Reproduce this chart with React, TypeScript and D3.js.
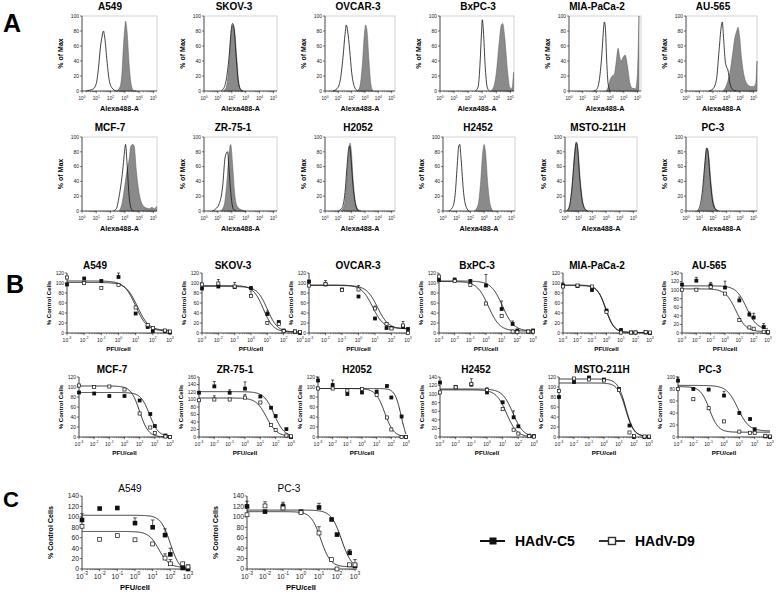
import React from 'react';
import * as d3 from 'd3';

const FONT = 'Liberation Sans, Arial, Helvetica, sans-serif';

// ---------------- Panel A: flow cytometry histograms ----------------
const histNames = ['A549', 'SKOV-3', 'OVCAR-3', 'BxPC-3', 'MIA-PaCa-2', 'AU-565', 'MCF-7', 'ZR-75-1', 'H2052', 'H2452', 'MSTO-211H', 'PC-3'];
const histYTicks = [0, 20, 40, 60, 80, 100];
const histXTicks = [0, 1, 2, 3, 4, 5];

// open (isotype) histograms: [log10 intensity, % of max]
const histOpen: number[][][] = [
  [[0.3, 0], [0.5, 1], [0.8, 3], [1.0, 10], [1.15, 30], [1.3, 60], [1.4, 72], [1.5, 80], [1.6, 70], [1.75, 40], [1.9, 15], [2.1, 4], [2.4, 0]],
  [[1.2, 0], [1.4, 3], [1.6, 15], [1.8, 45], [1.95, 80], [2.05, 90], [2.15, 85], [2.3, 50], [2.45, 15], [2.6, 3], [2.8, 0]],
  [[0.6, 0], [0.9, 3], [1.15, 15], [1.35, 45], [1.5, 75], [1.6, 88], [1.7, 80], [1.85, 55], [2.0, 25], [2.2, 6], [2.45, 0]],
  [[2.5, 0], [2.7, 5], [2.85, 40], [2.95, 80], [3.0, 95], [3.08, 80], [3.2, 35], [3.35, 5], [3.5, 0]],
  [[1.8, 0], [2.05, 3], [2.25, 20], [2.4, 50], [2.5, 78], [2.58, 92], [2.65, 85], [2.75, 40], [2.85, 10], [3.0, 0]],
  [[1.7, 0], [2.0, 3], [2.25, 15], [2.45, 55], [2.6, 85], [2.68, 92], [2.78, 70], [2.9, 40], [3.0, 32], [3.1, 28], [3.25, 10], [3.45, 2], [3.7, 0]],
  [[2.2, 0], [2.4, 3], [2.6, 20], [2.85, 55], [2.95, 75], [3.05, 90], [3.15, 65], [3.3, 20], [3.45, 3], [3.6, 0]],
  [[0.6, 0], [0.85, 3], [1.1, 10], [1.35, 35], [1.5, 70], [1.6, 78], [1.7, 80], [1.8, 55], [1.95, 20], [2.1, 3], [2.3, 0]],
  [[1.0, 0], [1.3, 5], [1.5, 25], [1.65, 60], [1.78, 85], [1.85, 88], [1.95, 70], [2.1, 35], [2.3, 8], [2.5, 0]],
  [[0.4, 0], [0.7, 5], [0.9, 25], [1.05, 65], [1.15, 88], [1.22, 90], [1.32, 70], [1.5, 25], [1.7, 5], [1.9, 0]],
  [[0.1, 0], [0.3, 5], [0.5, 30], [0.7, 75], [0.82, 93], [0.92, 85], [1.05, 50], [1.25, 15], [1.45, 3], [1.65, 0]],
  [[0.8, 0], [1.0, 5], [1.2, 25], [1.4, 65], [1.52, 85], [1.62, 80], [1.78, 45], [1.95, 15], [2.15, 3], [2.35, 0]],
];

// filled (anti-receptor) histograms
const histFilled: number[][][] = [
  [[2.4, 0], [2.65, 5], [2.8, 25], [2.9, 60], [3.0, 85], [3.05, 93], [3.15, 80], [3.3, 35], [3.45, 8], [3.6, 1], [3.8, 0]],
  [[1.4, 0], [1.6, 5], [1.8, 35], [1.95, 75], [2.07, 88], [2.2, 80], [2.35, 45], [2.5, 12], [2.65, 2], [2.8, 0]],
  [[2.4, 0], [2.6, 5], [2.8, 35], [2.95, 75], [3.05, 88], [3.15, 80], [3.3, 40], [3.45, 8], [3.6, 0]],
  [[3.6, 0], [3.8, 5], [4.0, 25], [4.2, 65], [4.35, 88], [4.45, 90], [4.6, 70], [4.8, 25], [4.95, 5], [5.1, 3], [5.22, 25]],
  [[2.7, 0], [2.85, 5], [3.0, 15], [3.15, 20], [3.3, 22], [3.45, 40], [3.58, 57], [3.7, 45], [3.8, 40], [3.95, 45], [4.1, 48], [4.25, 35], [4.45, 10], [4.6, 4], [4.85, 3], [4.98, 20], [5.1, 100]],
  [[2.75, 0], [3.0, 8], [3.25, 25], [3.45, 50], [3.6, 70], [3.75, 80], [3.85, 85], [3.95, 75], [4.1, 45], [4.3, 20], [4.5, 10], [4.8, 6], [5.0, 6], [5.15, 10], [5.25, 40]],
  [[2.6, 0], [2.8, 10], [3.0, 35], [3.15, 55], [3.3, 70], [3.42, 88], [3.55, 90], [3.65, 88], [3.8, 55], [3.95, 30], [4.15, 12], [4.4, 5], [4.7, 3], [4.9, 5], [5.05, 3], [5.22, 6]],
  [[1.2, 0], [1.45, 8], [1.65, 40], [1.8, 78], [1.92, 90], [2.05, 65], [2.2, 25], [2.35, 8], [2.55, 3], [2.8, 1], [3.0, 0]],
  [[1.2, 0], [1.45, 8], [1.62, 40], [1.78, 80], [1.88, 92], [1.98, 80], [2.12, 40], [2.3, 10], [2.5, 2], [2.7, 0]],
  [[2.3, 0], [2.55, 8], [2.75, 40], [2.9, 80], [3.0, 90], [3.1, 80], [3.25, 40], [3.45, 8], [3.65, 0]],
  [[0.15, 0], [0.35, 8], [0.55, 40], [0.72, 82], [0.85, 92], [0.97, 78], [1.12, 40], [1.3, 12], [1.5, 2], [1.7, 0]],
  [[0.9, 0], [1.1, 6], [1.3, 35], [1.45, 75], [1.58, 85], [1.7, 72], [1.85, 38], [2.05, 10], [2.25, 2], [2.45, 0]],
];

// ---------------- Panel B: cytotoxicity ----------------
const doseLog = [-3, -2, -1, 0, 1, 1.7, 2, 2.7, 3]; // log10 PFU/cell
const bNames = ['A549', 'SKOV-3', 'OVCAR-3', 'BxPC-3', 'MIA-PaCa-2', 'AU-565', 'MCF-7', 'ZR-75-1', 'H2052', 'H2452', 'MSTO-211H', 'PC-3'];
const bYMax = [120, 120, 120, 120, 120, 140, 120, 160, 120, 140, 120, 100];

const bC5 = [
  [97, 109, 104, 112, 39, 12, 4, 4, 1],
  [89, 93, 92, 90, 38, 22, 5, 3, 0],
  [103, 97, 87, 73, 29, 10, 10, 12, 8],
  [106, 107, 104, 95, 48, 18, 5, 3, 5],
  [95, 94, 86, 45, 6, 1, 1, 1, 0],
  [113, 122, 111, 106, 76, 43, 36, 14, 1],
  [89, 87, 82, 82, 73, 46, 22, 3, 0],
  [118, 135, 118, 129, 108, 78, 56, 21, 0],
  [113, 104, 86, 89, 91, 102, 79, 41, 0],
  [127, 117, 122, 104, 81, 46, 25, 3, 2],
  [80, 110, 119, 115, 96, 23, 0, 0, 0],
  [94, 80, 79, 69, 40, 30, 13, 1, 0],
];
const bD9 = [
  [111, 100, 90, 96, 51, 16, 10, 5, 3],
  [97, 99, 93, 74, 20, 18, 4, 3, 2],
  [95, 98, 86, 87, 49, 18, 9, 15, 0],
  [113, 104, 96, 59, 34, 3, 2, 3, 3],
  [93, 95, 93, 42, 1, 1, 1, 2, 1],
  [101, 101, 107, 92, 30, 13, 10, 3, 2],
  [103, 100, 101, 95, 47, 19, 8, 1, 0],
  [98, 100, 100, 105, 92, 32, 19, 4, 2],
  [97, 97, 93, 96, 84, 39, 15, 0, 0],
  [104, 116, 124, 110, 65, 17, 8, 2, 1],
  [92, 117, 115, 113, 94, 9, 2, 1, 1],
  [80, 63, 48, 26, 9, 7, 7, 2, 1],
];
const bC5Err = [
  [0, 0, 0, 10, 0, 0, 0, 0, 0],
  [0, 0, 0, 0, 6, 0, 0, 0, 0],
  [0, 8, 0, 0, 0, 0, 0, 0, 0],
  [0, 0, 0, 22, 16, 6, 0, 0, 0],
  [5, 0, 0, 0, 0, 0, 0, 0, 0],
  [0, 8, 7, 15, 8, 6, 10, 8, 0],
  [0, 0, 0, 0, 0, 0, 0, 0, 0],
  [0, 13, 8, 18, 0, 0, 0, 0, 0],
  [10, 10, 0, 0, 0, 0, 0, 0, 0],
  [0, 0, 0, 0, 0, 15, 0, 0, 0],
  [0, 0, 0, 0, 0, 0, 0, 0, 0],
  [6, 0, 0, 7, 0, 0, 0, 0, 0],
];
const bD9Err = [
  [0, 0, 0, 0, 0, 0, 0, 0, 0],
  [0, 8, 8, 10, 0, 0, 0, 0, 0],
  [0, 0, 0, 8, 5, 0, 0, 8, 0],
  [0, 0, 0, 0, 0, 0, 0, 0, 0],
  [0, 0, 0, 0, 0, 0, 0, 0, 0],
  [0, 0, 0, 0, 0, 0, 0, 0, 0],
  [0, 0, 0, 0, 0, 0, 0, 0, 0],
  [0, 10, 0, 8, 0, 0, 0, 0, 0],
  [0, 0, 0, 0, 0, 0, 0, 0, 0],
  [0, 0, 12, 5, 0, 0, 0, 0, 0],
  [0, 0, 0, 0, 0, 0, 0, 0, 0],
  [0, 0, 0, 0, 0, 0, 0, 0, 0],
];
// fitted dose-response: [top, bottom, logEC50, hill]
const bC5Fit = [
  [104, 4, 1.0, 1.3], [93, 2, 1.0, 1.4], [96, 9, 0.85, 1.3], [104, 4, 1.05, 1.2],
  [96, 1, -0.05, 1.5], [110, 8, 1.5, 1.2], [89, 1, 1.65, 1.5], [121, 0, 1.9, 1.3],
  [97, -15, 2.68, 2.0], [112, 0, 1.65, 1.3], [108, 1, 1.45, 1.6], [86, 10, 0.9, 1.2],
];
const bD9Fit = [
  [101, 5, 1.1, 1.3], [95, 2, 0.75, 1.4], [95, 8, 1.15, 1.3], [103, 4, 0.15, 1.2],
  [95, 1, -0.05, 1.5], [103, 3, 0.75, 1.2], [102, 0, 1.0, 1.5], [104, 2, 1.4, 1.3],
  [97, 0, 1.55, 1.4], [110, 0, 1.25, 1.3], [116, 1, 1.45, 1.6], [84, 8, -0.95, 1.5],
];

// ---------------- Panel C ----------------
const cNames = ['A549', 'PC-3'];
const cYMax = [140, 140];
const cC5 = [
  [94, 116, 117, 88, 80, 65, 28, 2, 0],
  [120, 110, 120, 110, 118, 95, 66, 31, 6],
];
const cD9 = [
  [82, 57, 64, 56, 48, 21, 10, 10, 4],
  [104, 121, 117, 108, 69, 18, 0, 8, 8],
];
const cC5Err = [
  [12, 0, 0, 10, 14, 12, 12, 0, 8],
  [10, 0, 8, 0, 8, 0, 0, 6, 0],
];
const cD9Err = [
  [0, 0, 0, 0, 0, 8, 8, 0, 0],
  [0, 8, 8, 0, 12, 0, 0, 0, 10],
];
const cC5Fit = [[103, -5, 2.0, 1.6], [113, 0, 2.25, 1.5]];
const cD9Fit = [[72, 3, 1.35, 1.5], [110, 4, 1.1, 1.6]];

const legendLabels = ['HAdV-C5', 'HAdV-D9'];
const doseTicks = [-3, -2, -1, 0, 1, 2, 3];

// ---------------- Layout ----------------
const histCols = [
  [[82, 75, 110], [204, 73, 234], [325, 70, 358], [440, 74, 478], [569, 72, 597], [686, 71, 713]],
  [[82, 75, 110], [204, 73, 233], [325, 70, 358], [443, 72, 478], [565, 72, 598], [686, 71, 713]],
];
const histRowsY = [[16, 75], [137, 74]];
const bCols = [
  [[67, 103, 95], [202, 98, 233], [309, 99, 358], [439, 94, 477], [563, 87, 597], [682, 86, 709]],
  [[79, 91, 112], [199, 92, 235], [318, 88, 357], [440, 94, 476], [559, 90, 602], [678, 92, 710]],
];
const bRowsY = [[273, 333], [377, 437]];
const cCols = [[82, 106, 130], [247, 108, 289]];
const cRowY = [496, 569];

function Pow({ x, y, e, fs }: { x: number; y: number; e: string | number; fs: number }) {
  return (
    <text x={x} y={y} fontSize={fs} textAnchor="middle" fontFamily={FONT} fill="#222">
      10<tspan dy={-fs * 0.45} fontSize={fs * 0.72}>{e}</tspan>
    </text>
  );
}

function HistPlot({ idx, left, width, top, h, tx }: any) {
  const x = d3.scaleLinear().domain([0, 5.25]).range([left, left + width]);
  const y = d3.scaleLinear().domain([0, 100]).range([top + h, top]);
  const base = top + h;
  const area = d3.area<number[]>().x(d => x(d[0])).y0(base).y1(d => y(d[1])).curve(d3.curveMonotoneX);
  const line = d3.line<number[]>().x(d => x(d[0])).y(d => y(d[1])).curve(d3.curveMonotoneX);
  const minors: number[] = [];
  for (let k = 0; k < 5; k++) for (let m = 2; m <= 9; m++) minors.push(k + Math.log10(m));
  return (
    <g>
      <rect x={left} y={top} width={width} height={h} fill="none" stroke="#c8c8c8" strokeWidth={0.8} />
      <path d={area(histFilled[idx]) || ''} fill="#8a8a8a" stroke="#5a5a5a" strokeWidth={0.5} />
      <path d={line(histOpen[idx]) || ''} fill="none" stroke="#111" strokeWidth={0.8} />
      <line x1={left} x2={left} y1={top} y2={base} stroke="#222" strokeWidth={0.7} />
      <line x1={left} x2={left + width} y1={base} y2={base} stroke="#222" strokeWidth={0.7} />
      {histYTicks.map(t => (
        <g key={'y' + t}>
          <line x1={left - 2} x2={left} y1={y(t)} y2={y(t)} stroke="#222" strokeWidth={0.6} />
          <text x={left - 3} y={y(t) + 1.8} fontSize={5} textAnchor="end" fontFamily={FONT} fill="#222">{t}</text>
        </g>
      ))}
      {histXTicks.map(t => (
        <g key={'x' + t}>
          <line x1={x(t)} x2={x(t)} y1={base} y2={base + 2.2} stroke="#222" strokeWidth={0.6} />
          <Pow x={x(t)} y={base + 9} e={t} fs={4.6} />
        </g>
      ))}
      {minors.map((t, i) => (
        <line key={'m' + i} x1={x(t)} x2={x(t)} y1={base} y2={base + 1.2} stroke="#222" strokeWidth={0.4} />
      ))}
      <text x={tx} y={top - 6} fontSize={10} fontWeight="bold" textAnchor="middle" fontFamily={FONT}>{histNames[idx]}</text>
      <text transform={`translate(${left - 19},${top + h / 2}) rotate(-90)`} fontSize={7} fontWeight="bold" textAnchor="middle" fontFamily={FONT}>% of Max</text>
      <text x={left + width / 2} y={base + 20} fontSize={7.2} fontWeight="bold" textAnchor="middle" fontFamily={FONT}>Alexa488-A</text>
    </g>
  );
}

function fitY(p: number[], xv: number) {
  const [top, bottom, ec, hill] = p;
  return bottom + (top - bottom) / (1 + Math.pow(10, (xv - ec) * hill));
}

function DosePlot({ name, left, width, top, bottom, tx, yMax, c5, d9, c5e, d9e, f5, f9, big }: any) {
  const x = d3.scaleLinear().domain([-3, 3]).range([left, left + width]);
  const y = d3.scaleLinear().domain([0, yMax]).range([bottom, top]).clamp(true);
  const xs = d3.range(-3, 3.0001, 0.02);
  const mk = (p: number[]) =>
    d3.line<number>().x(v => x(v)).y(v => y(Math.max(0, fitY(p, v))))(xs) || '';
  const yTicks = d3.range(0, yMax + 1, 20);
  const minors: number[] = [];
  for (let k = -3; k < 3; k++) for (let m = 2; m <= 9; m++) minors.push(k + Math.log10(m));
  const ms = big ? 4.6 : 3.8;
  const tickFs = big ? 6.8 : 5;
  const errCap = big ? 1.8 : 1.4;
  const renderErr = (vals: number[], errs: number[], key: string) =>
    vals.map((v, i) =>
      errs[i] > 0 ? (
        <g key={key + i}>
          <line x1={x(doseLog[i])} x2={x(doseLog[i])} y1={y(v)} y2={y(v + errs[i])} stroke="#111" strokeWidth={0.7} />
          <line x1={x(doseLog[i]) - errCap} x2={x(doseLog[i]) + errCap} y1={y(v + errs[i])} y2={y(v + errs[i])} stroke="#111" strokeWidth={0.7} />
        </g>
      ) : null
    );
  return (
    <g>
      <path d={mk(f5)} fill="none" stroke="#111" strokeWidth={0.9} />
      <path d={mk(f9)} fill="none" stroke="#111" strokeWidth={0.9} />
      <line x1={left} x2={left} y1={top} y2={bottom} stroke="#111" strokeWidth={0.8} />
      <line x1={left} x2={left + width + 2} y1={bottom} y2={bottom} stroke="#111" strokeWidth={0.8} />
      {yTicks.map(t => (
        <g key={'y' + t}>
          <line x1={left - 2.2} x2={left} y1={y(t)} y2={y(t)} stroke="#111" strokeWidth={0.6} />
          <text x={left - 3} y={y(t) + tickFs * 0.36} fontSize={tickFs} textAnchor="end" fontFamily={FONT} fill="#222">{t}</text>
        </g>
      ))}
      {doseTicks.map(t => (
        <g key={'x' + t}>
          <line x1={x(t)} x2={x(t)} y1={bottom} y2={bottom + 2.2} stroke="#111" strokeWidth={0.6} />
          <Pow x={x(t)} y={bottom + (big ? 9.5 : 8.5)} e={t} fs={tickFs} />
        </g>
      ))}
      {minors.map((t, i) => (
        <line key={'m' + i} x1={x(t)} x2={x(t)} y1={bottom} y2={bottom + 1.2} stroke="#111" strokeWidth={0.4} />
      ))}
      {renderErr(c5, c5e, 'e5')}
      {renderErr(d9, d9e, 'e9')}
      {c5.map((v: number, i: number) => (
        <rect key={'c' + i} x={x(doseLog[i]) - ms / 2} y={y(v) - ms / 2} width={ms} height={ms} fill="#111" />
      ))}
      {d9.map((v: number, i: number) => (
        <rect key={'d' + i} x={x(doseLog[i]) - ms / 2 + 0.35} y={y(v) - ms / 2 + 0.35} width={ms - 0.7} height={ms - 0.7} fill="#fff" stroke="#111" strokeWidth={0.7} />
      ))}
      <text x={tx} y={top - 3.8} fontSize={10} fontWeight={big ? 'normal' : 'bold'} textAnchor="middle" fontFamily={FONT}>{name}</text>
      <text transform={`translate(${left - (big ? 29 : 16)},${(top + bottom) / 2}) rotate(-90)`} fontSize={big ? 7.2 : 6} fontWeight="bold" textAnchor="middle" fontFamily={FONT}>% Control Cells</text>
      <text x={left + width / 2} y={bottom + (big ? 21 : 17.5)} fontSize={big ? 7.6 : 6.2} fontWeight="bold" textAnchor="middle" fontFamily={FONT}>PFU/cell</text>
    </g>
  );
}

export default function App() {
  return (
    <svg width={778} height={593} viewBox="0 0 778 593" style={{ position: 'absolute', left: 0, top: 0, background: '#fff' }}>
      <rect x={0} y={0} width={778} height={593} fill="#fff" />
      <text x={3} y={32} fontSize={25} fontWeight="bold" fontFamily={FONT}>A</text>
      <text x={6} y={293} fontSize={25} fontWeight="bold" fontFamily={FONT}>B</text>
      <text x={3} y={507} fontSize={22} fontWeight="bold" fontFamily={FONT}>C</text>

      {histNames.map((_, i) => {
        const r = Math.floor(i / 6);
        const c = i % 6;
        const [left, width, tx] = histCols[r][c];
        const [top, h] = histRowsY[r];
        return <HistPlot key={'h' + i} idx={i} left={left} width={width} top={top} h={h} tx={tx} />;
      })}

      {bNames.map((nm, i) => {
        const r = Math.floor(i / 6);
        const c = i % 6;
        const [left, width, tx] = bCols[r][c];
        const [top, bottom] = bRowsY[r];
        return (
          <DosePlot key={'b' + i} name={nm} left={left} width={width} top={top} bottom={bottom} tx={tx}
            yMax={bYMax[i]} c5={bC5[i]} d9={bD9[i]} c5e={bC5Err[i]} d9e={bD9Err[i]} f5={bC5Fit[i]} f9={bD9Fit[i]} big={false} />
        );
      })}

      {cNames.map((nm, i) => {
        const [left, width, tx] = cCols[i];
        return (
          <DosePlot key={'c' + i} name={nm} left={left} width={width} top={cRowY[0]} bottom={cRowY[1]} tx={tx}
            yMax={cYMax[i]} c5={cC5[i]} d9={cD9[i]} c5e={cC5Err[i]} d9e={cD9Err[i]} f5={cC5Fit[i]} f9={cD9Fit[i]} big={true} />
        );
      })}

      {/* legend */}
      <g>
        <line x1={480} x2={505} y1={541} y2={541} stroke="#111" strokeWidth={2} />
        <rect x={489.5} y={537.5} width={7} height={7} fill="#111" />
        <text x={515} y={546} fontSize={14} fontWeight="bold" fontFamily={FONT}>{legendLabels[0]}</text>
        <line x1={599} x2={625} y1={541} y2={541} stroke="#333" strokeWidth={2} />
        <rect x={608.5} y={537.5} width={7} height={7} fill="#fff" stroke="#333" strokeWidth={1.4} />
        <text x={635} y={546} fontSize={14} fontWeight="bold" fontFamily={FONT}>{legendLabels[1]}</text>
      </g>
    </svg>
  );
}
